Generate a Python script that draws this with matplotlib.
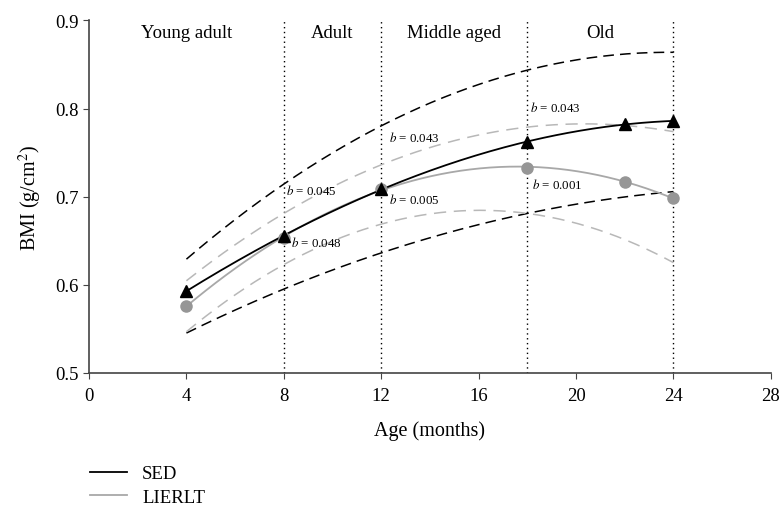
import numpy as np
import matplotlib.pyplot as plt

plt.rcParams['font.family'] = ['Liberation Serif', 'DejaVu Serif']
plt.rcParams['mathtext.fontset'] = 'stix'

# measured BMI means
ages = [4, 8, 12, 18, 22, 24]
sed = [0.593, 0.655, 0.709, 0.762, 0.782, 0.786]
lierlt = [0.576, 0.653, 0.709, 0.733, 0.717, 0.698]

# confidence limits read at a few ages
band_ages_sed = [4, 8, 12, 18, 24]
sed_upper = [0.629, 0.714, 0.781, 0.843, 0.864]
sed_lower = [0.545, 0.595, 0.637, 0.680, 0.706]
band_ages_lie = [4, 8, 12, 16, 18, 22, 24]
lie_upper = [0.606, 0.678, 0.737, 0.770, 0.780, 0.781, 0.773]
lie_lower = [0.546, 0.624, 0.669, 0.684, 0.680, 0.652, 0.625]

# phases and slope labels
phase_names = ['Young adult', 'Adult', 'Middle aged', 'Old']
phase_centres = [4, 10, 15, 21]
phase_edges = [8, 12, 18, 24]
slope_text = ['0.045', '0.048', '0.043', '0.005', '0.043', '0.001']
slope_x = [8.1, 8.3, 12.3, 12.3, 18.1, 18.2]
slope_y = [0.707, 0.648, 0.768, 0.697, 0.802, 0.714]


def smooth(xs, ys, deg):
    c = np.polyfit(xs, ys, deg)
    xx = np.linspace(min(xs), max(xs), 200)
    return xx, np.polyval(c, xx)


fig = plt.figure(figsize=(7.81, 5.10), dpi=100)
ax = fig.add_axes([0.114, 0.267, 0.873, 0.691])

for e in phase_edges:
    ax.plot([e, e], [0.5, 0.9], ls=(0, (1, 2.5)), color='black', lw=1.0)

xx, yy = smooth(band_ages_sed, sed_upper, 2)
ax.plot(xx, yy, color='black', lw=1.1, dashes=(7, 4))
xx, yy = smooth(band_ages_sed, sed_lower, 2)
ax.plot(xx, yy, color='black', lw=1.1, dashes=(7, 4))
xx, yy = smooth(band_ages_lie, lie_upper, 2)
ax.plot(xx, yy, color='#b8b8b8', lw=1.1, dashes=(8, 5))
xx, yy = smooth(band_ages_lie, lie_lower, 2)
ax.plot(xx, yy, color='#b8b8b8', lw=1.1, dashes=(8, 5))

xx, yy = smooth(ages, lierlt, 3)
ax.plot(xx, yy, color='#a8a8a8', lw=1.3)
xx, yy = smooth(ages, sed, 3)
ax.plot(xx, yy, color='black', lw=1.3)

ax.plot(ages, lierlt, 'o', color='#969696', ms=8, zorder=4)
ax.plot(ages, sed, '^', color='black', ms=8.5, zorder=5)

for name, cx in zip(phase_names, phase_centres):
    ax.text(cx, 0.886, name, ha='center', va='center', fontsize=13.5)

for t, x, y in zip(slope_text, slope_x, slope_y):
    ax.text(x, y, r'$b$ = ' + t, fontsize=9.3, va='center', ha='left')

ax.set_xlim(0, 28)
ax.set_ylim(0.5, 0.9)
ax.set_xticks(range(0, 29, 4))
ax.set_yticks([0.5, 0.6, 0.7, 0.8, 0.9])
ax.set_yticklabels(['0.5', '0.6', '0.7', '0.8', '0.9'])
for s in ['top', 'right']:
    ax.spines[s].set_visible(False)
for s in ['left', 'bottom']:
    ax.spines[s].set_color('#444444')
    ax.spines[s].set_linewidth(1.2)
ax.tick_params(labelsize=13.5, color='#444444', length=4)
ax.tick_params(axis='x', pad=6)
ax.set_xlabel('Age (months)', fontsize=14.5, labelpad=12)
ax.set_ylabel(r'BMI (g/cm$^2$)', fontsize=14.5, labelpad=8)

h1, = ax.plot([], [], color='black', lw=1.3)
h2, = ax.plot([], [], color='#a8a8a8', lw=1.3)
fig.legend([h1, h2], ['SED', 'LIERLT'], loc='upper left',
           bbox_to_anchor=(0.098, 0.112), frameon=False, fontsize=13.5,
           handlelength=2.0, labelspacing=0.35, borderpad=0.2)

fig.savefig('out.png', dpi=100)
